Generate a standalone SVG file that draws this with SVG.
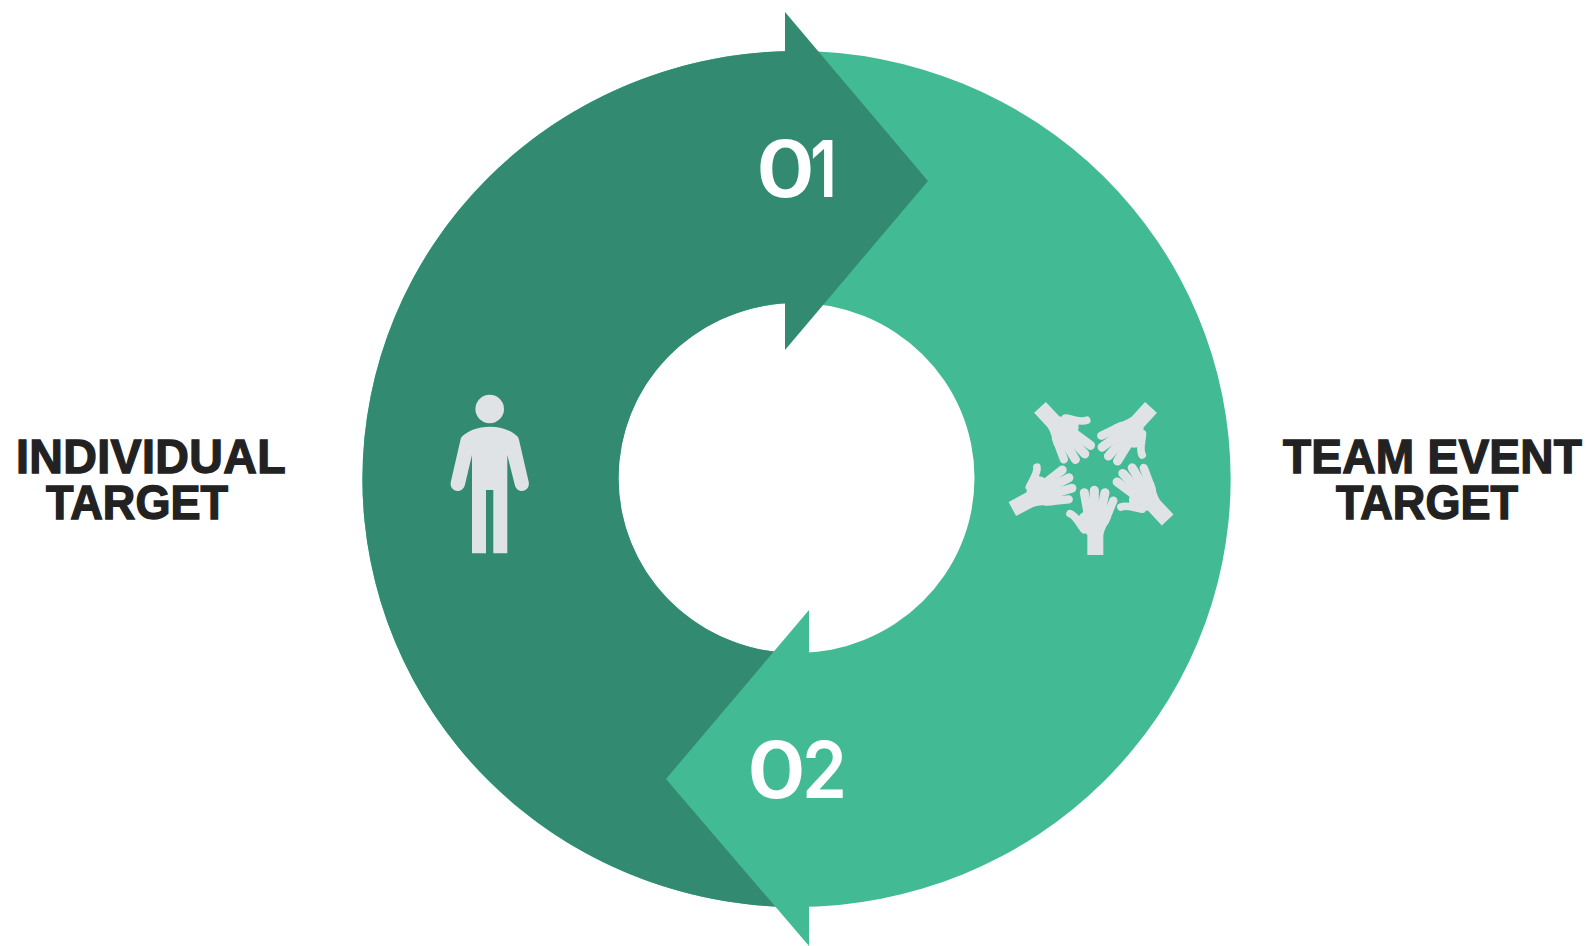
<svg xmlns="http://www.w3.org/2000/svg" xmlns:xlink="http://www.w3.org/1999/xlink" width="1588" height="946" viewBox="0 0 1588 946">
<style>
.dark{fill:#328b70}
.light{fill:#42bb95}
.icon{fill:#dfe3e5}
.finger{fill:none;stroke:#dfe3e5;stroke-linecap:round;stroke-linejoin:round}
.label{font-family:"Liberation Sans",Arial,sans-serif;font-weight:700;font-size:49px;fill:#222;stroke:#222;stroke-width:1.4px}
.num{font-family:Inter,"Liberation Sans",sans-serif;font-weight:600;font-size:78px;fill:#fff}
</style>
<defs>
<g id="hand">
<path class="icon" d="M-24,0V-60C-34,-70 -46,-84 -60,-104L-42,-125L-15,-140L20,-140L47,-112C38,-95 28,-80 24,-60V0Z"/>
<path class="finger" stroke-width="23" d="M-76,-124C-58,-118 -50,-96 -34,-76"/>
<path class="finger" stroke-width="27" d="M-33,-187L-20,-115"/>
<path class="finger" stroke-width="27" d="M-3,-194L-3,-115"/>
<path class="finger" stroke-width="27" d="M29,-187L14,-115"/>
<path class="finger" stroke-width="25" d="M54,-163L28,-100"/>
</g>
</defs>
<rect width="1588" height="946" fill="#fff"/>
<g id="segment-02-team">
<path class="light" fill-rule="evenodd" d="M796.5,51A434,428 0 1 1 796.5,907A434,428 0 1 1 796.5,51ZM796.5,303A178,175 0 1 0 796.5,653A178,175 0 1 0 796.5,303Z"/>
</g>
<g id="segment-01-individual">
<path class="dark" d="M785,51.15A434,428 0 0 0 785,906.85L785,652.63A178,175 0 0 1 785,303.37Z"/>
<polygon class="dark" points="785,12 928,181 785,350"/>
</g>
<g id="arrow-02">
<polygon class="light" points="809,610 666,779 809,946"/>
</g>
<g id="number-01"><text class="num" y="197"><tspan x="756" textLength="59" lengthAdjust="spacingAndGlyphs">0</tspan><tspan x="810" textLength="27" lengthAdjust="spacingAndGlyphs">1</tspan></text></g>
<g id="number-02"><text class="num" y="798"><tspan x="747" textLength="59" lengthAdjust="spacingAndGlyphs">0</tspan><tspan x="802" textLength="45" lengthAdjust="spacingAndGlyphs">2</tspan></text></g>
<g id="person-icon">
<circle class="icon" cx="489.7" cy="409" r="14.3"/>
<path class="icon" d="M490,426.7C477,426.7 468,431 462,436.5Q461,437.5 460.7,439L450.9,481.5C449.5,487.5 453.5,491 457.5,491C461.5,491 464,488.5 465,484.5L472,455V553.3H486V490H493.3V553.3H507.3V455L514.7,484.5C515.7,488.5 518,491 522,491C526,491 530,487.5 528.6,481.5L518.8,439Q518.5,437.5 517.5,436.5C511.5,431 503,426.7 490,426.7Z"/>
</g>
<g id="team-icon" transform="translate(980 380) scale(.3333)">
<use xlink:href="#hand" href="#hand" transform="translate(346 525)"/>
<use xlink:href="#hand" href="#hand" transform="translate(563 420) rotate(-43)"/>
<use xlink:href="#hand" href="#hand" transform="translate(97 387) rotate(62)"/>
<use xlink:href="#hand" href="#hand" transform="translate(180 82) rotate(137)"/>
<use xlink:href="#hand" href="#hand" transform="translate(513 82) rotate(222)"/>
</g>
<g id="label-individual">
<text class="label" transform="translate(16 473) scale(.95 1)" textLength="284" lengthAdjust="spacing">INDIVIDUAL</text>
<text class="label" transform="translate(46 519) scale(.92 1)" textLength="198" lengthAdjust="spacing">TARGET</text>
</g>
<g id="label-team">
<text class="label" transform="translate(1283 473) scale(.94 1)" textLength="318" lengthAdjust="spacing">TEAM EVENT</text>
<text class="label" transform="translate(1336 519) scale(.92 1)" textLength="198" lengthAdjust="spacing">TARGET</text>
</g>
</svg>
